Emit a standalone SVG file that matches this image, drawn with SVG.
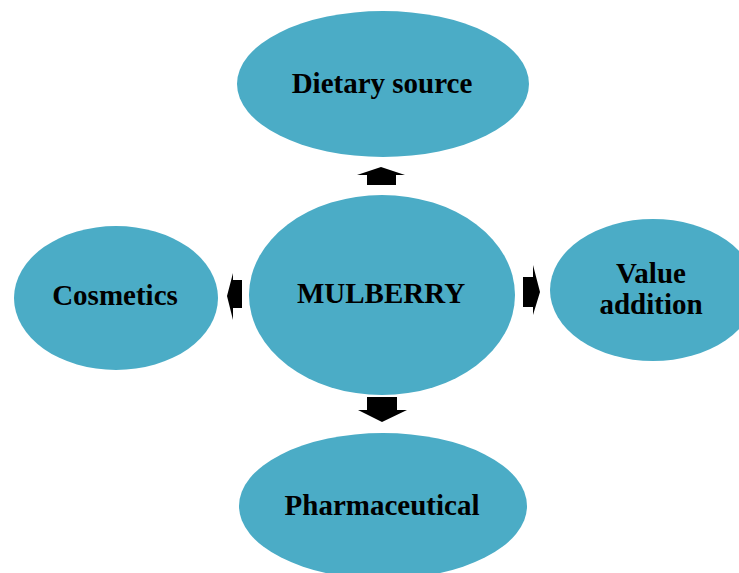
<svg xmlns="http://www.w3.org/2000/svg" width="739" height="573" viewBox="0 0 739 573">
<style>
.node{fill:#4BACC6;}
.lbl{font-family:"Liberation Serif","Times New Roman",serif;font-weight:bold;font-size:29px;fill:#000;text-anchor:middle;}
.arr{fill:#000;}
</style>
<rect width="739" height="573" fill="#fff"/>
<g id="dietary"><ellipse class="node" cx="383" cy="84" rx="146" ry="73"/><text class="lbl" x="382" y="93">Dietary source</text></g>
<g id="mulberry"><ellipse class="node" cx="382" cy="295" rx="133" ry="100"/><text class="lbl" x="381" y="303">MULBERRY</text></g>
<g id="cosmetics"><ellipse class="node" cx="116" cy="298" rx="102" ry="72"/><text class="lbl" x="115" y="305">Cosmetics</text></g>
<g id="value"><ellipse class="node" cx="653" cy="290" rx="103" ry="71"/><text class="lbl" x="651" y="283">Value</text><text class="lbl" x="651" y="314">addition</text></g>
<g id="pharma"><ellipse class="node" cx="383" cy="506" rx="144" ry="73"/><text class="lbl" x="382" y="515">Pharmaceutical</text></g>
<g id="connectors">
<polygon class="arr" points="381,167 405,175 396,175 396,185 367,185 367,175 357,175"/>
<polygon class="arr" points="367,397 397,397 397,410 407,410 382,422 358,410 367,410"/>
<polygon class="arr" points="227,296 233,273 233,280 242,280 242,308 233,308 233,320"/>
<polygon class="arr" points="540,292 533,265 533,277 523,277 523,307 533,307 533,315"/>
</g>
</svg>
